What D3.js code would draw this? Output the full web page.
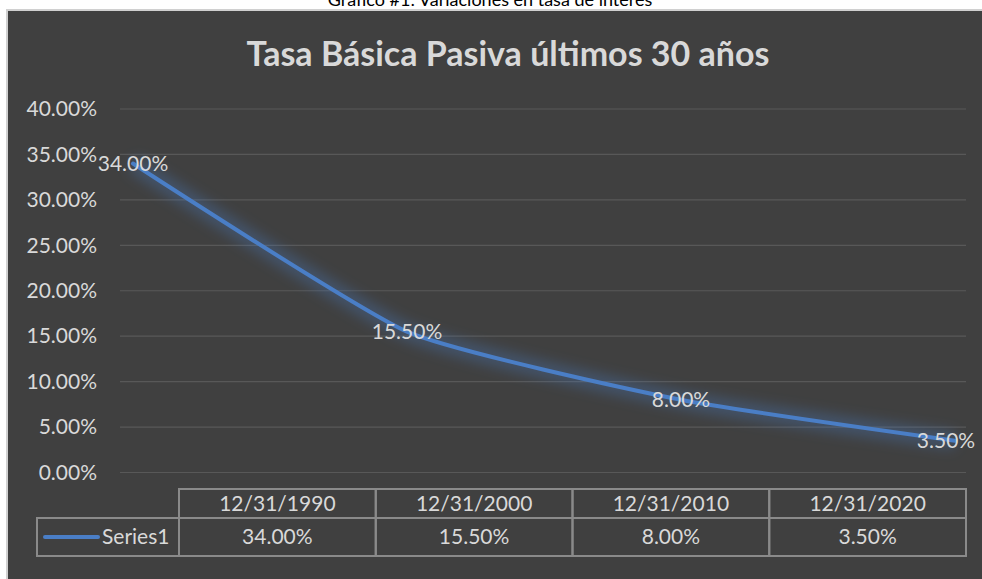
<!DOCTYPE html>
<html>
<head>
<meta charset="utf-8">
<script src="https://cdn.jsdelivr.net/npm/d3@7"></script>
<style>
  body { margin: 0; background: #fff; }
  svg { display: block; }
  text { font-family: Lato, "Open Sans", sans-serif; }
</style>
</head>
<body>
<div id="chart"></div>
<script>
// chart data
const caption = "Gráfico #1: Variaciones en tasa de interés";
const title = "Tasa Básica Pasiva últimos 30 años";
const dates = ["12/31/1990", "12/31/2000", "12/31/2010", "12/31/2020"];
const rates = [0.34, 0.155, 0.08, 0.035];
const seriesName = "Series1";
const yTicks = [0, 0.05, 0.10, 0.15, 0.20, 0.25, 0.30, 0.35, 0.40];

const width = 982, height = 579;
const fmt = d3.format(".2%");

const svg = d3.select("#chart")
  .append("svg")
  .attr("width", width)
  .attr("height", height);

// glow filter for the line
const defs = svg.append("defs");
const glow = defs.append("filter")
  .attr("id", "glow")
  .attr("x", "-20%").attr("y", "-50%")
  .attr("width", "140%").attr("height", "200%");
glow.append("feGaussianBlur").attr("stdDeviation", 7);

// caption above the chart (cut off at top like the source)
svg.append("text")
  .attr("x", 490)
  .attr("y", 6)
  .attr("text-anchor", "middle")
  .style("font-size", "18px")
  .style("fill", "#000")
  .text(caption);

// chart frame
svg.append("rect")
  .attr("x", 7).attr("y", 10)
  .attr("width", width).attr("height", height)
  .style("fill", "#404040")
  .style("stroke", "#d0d0d0")
  .style("stroke-width", 2);

svg.append("text")
  .attr("x", 508)
  .attr("y", 66)
  .attr("text-anchor", "middle")
  .style("font-size", "34px")
  .style("font-weight", "bold")
  .style("fill", "#d9d9d9")
  .text(title);

// scales
const x = d3.scalePoint().domain(dates).range([133, 955]);
const y = d3.scaleLinear().domain([0, 0.40]).range([472.5, 109]);

// y grid
const grid = svg.append("g").attr("class", "y-grid");
grid.selectAll("line")
  .data(yTicks)
  .join("line")
  .attr("x1", 120).attr("x2", 966)
  .attr("y1", d => y(d)).attr("y2", d => y(d))
  .style("stroke", "#585858")
  .style("stroke-width", 1.2);

// y axis labels
const yAxis = svg.append("g")
  .attr("transform", "translate(97,0)")
  .call(d3.axisLeft(y).tickValues(yTicks).tickFormat(fmt).tickSize(0).tickPadding(0));
yAxis.select(".domain").remove();
yAxis.selectAll("text")
  .style("font-family", "Lato, sans-serif")
  .style("font-size", "21px")
  .style("fill", "#d9d9d9");

// line
const pts = dates.map((d, i) => [x(d), y(rates[i])]);
const line = d3.line().curve(d3.curveCardinal.tension(0.5));

svg.append("path")
  .attr("d", line(pts))
  .style("fill", "none")
  .style("stroke", "#4a7ec6")
  .style("stroke-width", 16)
  .style("opacity", 0.35)
  .attr("filter", "url(#glow)");

svg.append("path")
  .attr("d", line(pts))
  .style("fill", "none")
  .style("stroke", "#4a7ec6")
  .style("stroke-width", 4)
  .style("stroke-linecap", "round");

// data labels (last one pulled in so it stays inside the frame)
svg.append("g")
  .selectAll("text")
  .data(rates)
  .join("text")
  .attr("x", (d, i) => Math.min(x(dates[i]), 946))
  .attr("y", d => y(d))
  .attr("dy", "0.35em")
  .attr("text-anchor", "middle")
  .style("font-size", "21px")
  .style("fill", "#d9d9d9")
  .text(d => fmt(d));

// data table
const col = d3.scaleBand().domain(dates).range([179, 966]);
const rowTop = 489, rowMid = 518, rowBot = 556, legLeft = 37;
const table = svg.append("g").attr("class", "data-table");
const tableStroke = { stroke: "#8a8a8a", width: 2 };

// header cells
table.selectAll(".head")
  .data(dates)
  .join("rect")
  .attr("class", "head")
  .attr("x", d => col(d)).attr("y", rowTop)
  .attr("width", col.bandwidth()).attr("height", rowMid - rowTop)
  .style("fill", "none")
  .style("stroke", tableStroke.stroke)
  .style("stroke-width", tableStroke.width);

table.selectAll(".head-text")
  .data(dates)
  .join("text")
  .attr("class", "head-text")
  .attr("x", d => col(d) + col.bandwidth() / 2)
  .attr("y", (rowTop + rowMid) / 2)
  .attr("dy", "0.35em")
  .attr("text-anchor", "middle")
  .style("font-size", "21px")
  .style("fill", "#d9d9d9")
  .text(d => d);

// value cells
table.selectAll(".val")
  .data(dates)
  .join("rect")
  .attr("class", "val")
  .attr("x", d => col(d)).attr("y", rowMid)
  .attr("width", col.bandwidth()).attr("height", rowBot - rowMid)
  .style("fill", "none")
  .style("stroke", tableStroke.stroke)
  .style("stroke-width", tableStroke.width);

table.selectAll(".val-text")
  .data(rates)
  .join("text")
  .attr("class", "val-text")
  .attr("x", (d, i) => col(dates[i]) + col.bandwidth() / 2)
  .attr("y", (rowMid + rowBot) / 2)
  .attr("dy", "0.35em")
  .attr("text-anchor", "middle")
  .style("font-size", "21px")
  .style("fill", "#d9d9d9")
  .text(d => fmt(d));

// legend cell
table.append("rect")
  .attr("x", legLeft).attr("y", rowMid)
  .attr("width", col(dates[0]) - legLeft).attr("height", rowBot - rowMid)
  .style("fill", "none")
  .style("stroke", tableStroke.stroke)
  .style("stroke-width", tableStroke.width);

table.append("line")
  .attr("x1", 45).attr("x2", 98)
  .attr("y1", 537).attr("y2", 537)
  .style("stroke", "#4a7ec6")
  .style("stroke-width", 4)
  .style("stroke-linecap", "round");

table.append("text")
  .attr("x", 102)
  .attr("y", (rowMid + rowBot) / 2)
  .attr("dy", "0.35em")
  .style("font-size", "21px")
  .style("fill", "#d9d9d9")
  .text(seriesName);
</script>
</body>
</html>
